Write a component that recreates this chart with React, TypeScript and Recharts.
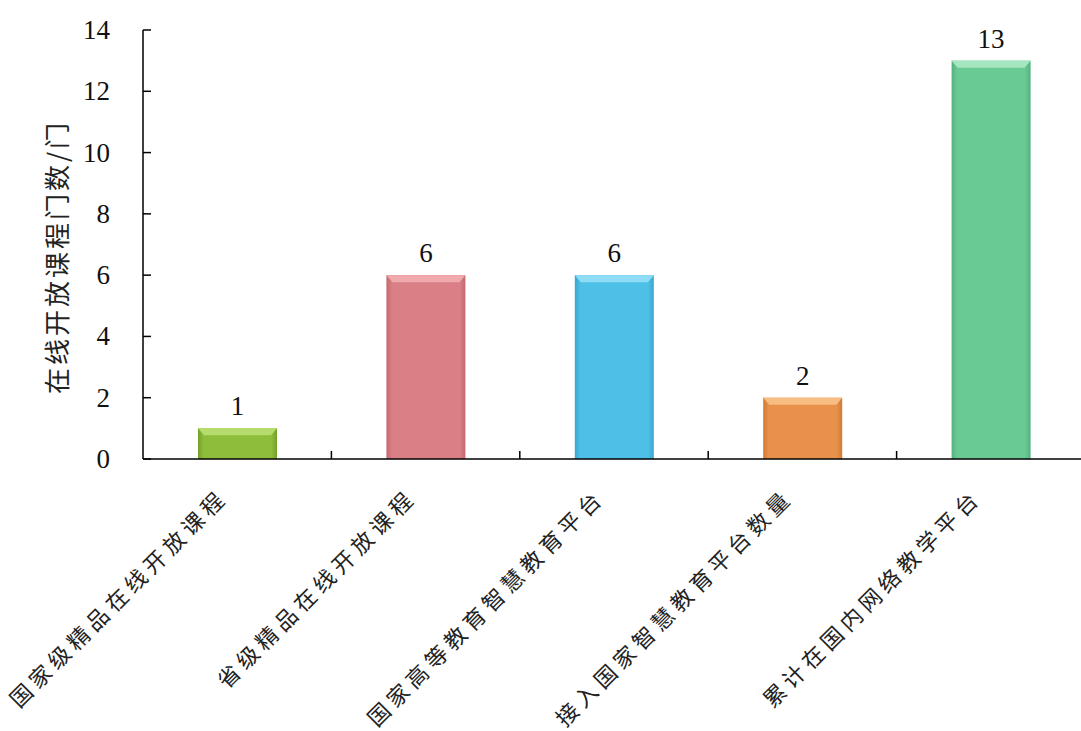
import React from "react";
import { BarChart, Bar, XAxis, YAxis, LabelList, Cell } from "recharts";

const categories = [
  "国家级精品在线开放课程",
  "省级精品在线开放课程",
  "国家高等教育智慧教育平台",
  "接入国家智慧教育平台数量",
  "累计在国内网络教学平台",
];
const values = [1, 6, 6, 2, 13];
const colors = ["#8dbd3b", "#d97f85", "#4ebfe7", "#e8914a", "#69ca94"];
const lightColors = ["#b5dc6c", "#f0a9ad", "#8fdcf6", "#f7bd82", "#a4e6c0"];
const darkColors = ["#73a02a", "#c26a70", "#3aa6cf", "#d07a35", "#55b07e"];
const yTicks = [0, 2, 4, 6, 8, 10, 12, 14];
const yTitle = "在线开放课程门数/门";

const data = categories.map((name, i) => ({ name, value: values[i] }));

const PLOT_LEFT = 143;
const PLOT_RIGHT = 1085;
const BAND = (PLOT_RIGHT - PLOT_LEFT) / categories.length;
const SERIF = "'Liberation Serif', 'Times New Roman', serif";
const CJK = "'Noto Sans CJK SC', sans-serif";

const BarShape = (props: any) => {
  const { x, y, width, height, index } = props;
  if (!width || !height) return null;
  const id = `g${index}`;
  const b = 6;
  return (
    <g>
      <defs>
        <linearGradient id={id} x1="0" y1="0" x2="1" y2="0">
          <stop offset="0" stopColor={darkColors[index]} />
          <stop offset="0.07" stopColor={colors[index]} />
          <stop offset="0.93" stopColor={colors[index]} />
          <stop offset="1" stopColor={darkColors[index]} />
        </linearGradient>
      </defs>
      <rect x={x} y={y} width={width} height={height} fill={`url(#${id})`} />
      <polygon
        points={`${x},${y} ${x + width},${y} ${x + width - b},${y + b + 1} ${x + b},${y + b + 1}`}
        fill={lightColors[index]}
      />
    </g>
  );
};

const YTick = (props: any) => {
  const { x, y, payload } = props;
  return (
    <g>
      <line x1={x} y1={y} x2={x + 8} y2={y} stroke="#000" strokeWidth={1.5} />
      <text
        x={x - 33}
        y={y}
        textAnchor="end"
        dominantBaseline="central"
        fontFamily={SERIF}
        fontSize={27}
        fill="#111"
      >
        {payload.value}
      </text>
    </g>
  );
};

const XTick = (props: any) => {
  const { x, y, payload } = props;
  const bx = x - BAND / 2;
  const ax = x - 8;
  const ay = y + 40;
  return (
    <g>
      {bx > PLOT_LEFT + 1 && (
        <line x1={bx} y1={y} x2={bx} y2={y - 8} stroke="#000" strokeWidth={1.5} />
      )}
      <text
        x={ax}
        y={ay}
        textAnchor="end"
        transform={`rotate(-45, ${ax}, ${ay})`}
        fontFamily={CJK}
        fontSize={22}
        letterSpacing={5}
        fill="#222"
      >
        {payload.value}
      </text>
    </g>
  );
};

const YLabel = (props: any) => {
  const vb = props.viewBox || {};
  const cx = 55;
  const cy = 257;
  return (
    <text
      x={cx}
      y={cy}
      textAnchor="middle"
      dominantBaseline="central"
      transform={`rotate(-90, ${cx}, ${cy})`}
      fontFamily={CJK}
      fontSize={26}
      letterSpacing={3}
      fill="#222"
    >
      {yTitle}
    </text>
  );
};

export default function App() {
  return (
    <div
      style={{
        position: "absolute",
        left: 0,
        top: 0,
        width: 1081,
        height: 731,
        overflow: "hidden",
        background: "#fff",
      }}
    >
      <BarChart
        width={1100}
        height={731}
        data={data}
        margin={{ top: 30, right: 1100 - PLOT_RIGHT, bottom: 0, left: PLOT_LEFT - 1 }}
        barSize={79}
      >
        <XAxis
          dataKey="name"
          axisLine={{ stroke: "#000", strokeWidth: 1.5 }}
          tickLine={false}
          tickSize={0}
          tickMargin={0}
          height={272}
          interval={0}
          tick={<XTick />}
        />
        <YAxis
          width={1}
          domain={[0, 14]}
          ticks={yTicks}
          axisLine={{ stroke: "#000", strokeWidth: 1.5 }}
          tickLine={false}
          tickSize={0}
          tickMargin={0}
          tick={<YTick />}
          label={<YLabel />}
        />
        <Bar dataKey="value" isAnimationActive={false} shape={<BarShape />}>
          {data.map((d, i) => (
            <Cell key={i} fill={colors[i]} />
          ))}
          <LabelList
            dataKey="value"
            position="top"
            offset={13}
            fontFamily={SERIF}
            fontSize={27}
            fill="#111"
          />
        </Bar>
      </BarChart>
    </div>
  );
}
